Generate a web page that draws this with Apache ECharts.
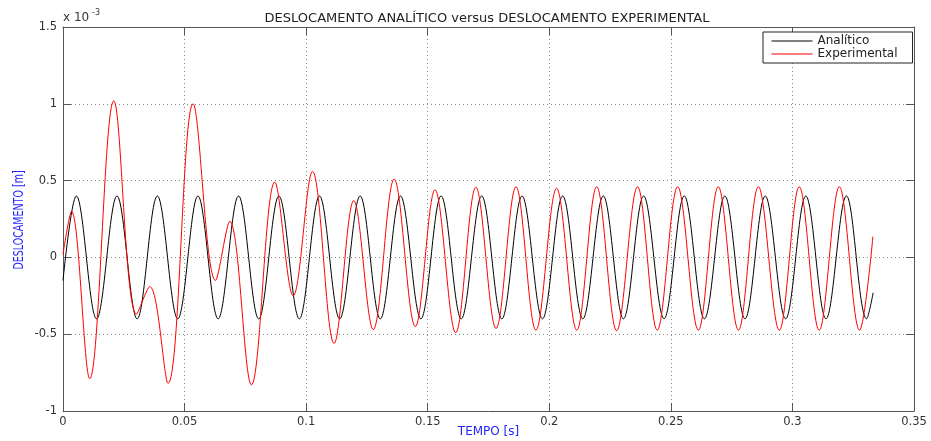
<!DOCTYPE html>
<html>
<head>
<meta charset="utf-8">
<script src="https://cdn.jsdelivr.net/npm/echarts@6/dist/echarts.min.js"></script>
<style>html,body{margin:0;padding:0;background:#fff}#c{width:931px;height:441px}</style>
</head>
<body>
<div id="c"></div>
<script>
// Values in units of 1e-3 m (extrema + end points)
const analyticT = [0, 0.0055, 0.0138, 0.0222, 0.0305, 0.0388, 0.0472, 0.0555, 0.0638, 0.0722, 0.0805,
  0.0888, 0.0972, 0.1055, 0.1138, 0.1222, 0.1305, 0.1388, 0.1472, 0.1555, 0.1638,
  0.1722, 0.1805, 0.1888, 0.1972, 0.2055, 0.2138, 0.2222, 0.2305, 0.2388, 0.2472,
  0.2555, 0.2638, 0.2722, 0.2805, 0.2888, 0.2972, 0.3055, 0.3138, 0.3222, 0.3305, 0.3332];
const analyticV = [-0.15, 0.40, -0.40, 0.40, -0.40, 0.40, -0.40, 0.40, -0.40, 0.40, -0.40,
  0.40, -0.40, 0.40, -0.40, 0.40, -0.40, 0.40, -0.40, 0.40, -0.40,
  0.40, -0.40, 0.40, -0.40, 0.40, -0.40, 0.40, -0.40, 0.40, -0.40,
  0.40, -0.40, 0.40, -0.40, 0.40, -0.40, 0.40, -0.40, 0.40, -0.40, -0.23];

const experimentalT = [0, 0.0035, 0.0110, 0.0209, 0.0302, 0.0357, 0.0432, 0.0535, 0.0627, 0.0686,
  0.0775, 0.0871, 0.0947, 0.1026, 0.1115, 0.1196, 0.1276, 0.1362, 0.1449, 0.1530,
  0.1615, 0.1698, 0.1781, 0.1863, 0.1945, 0.2030, 0.2113, 0.2195, 0.2277, 0.2363,
  0.2444, 0.2528, 0.2613, 0.2695, 0.2778, 0.2860, 0.2946, 0.3028, 0.3110, 0.3193,
  0.3276, 0.3331];
const experimentalV = [0.02, 0.30, -0.79, 1.02, -0.37, -0.19, -0.82, 1.00, -0.15, 0.235,
  -0.83, 0.49, -0.25, 0.56, -0.56, 0.37, -0.47, 0.51, -0.45, 0.44,
  -0.49, 0.457, -0.463, 0.46, -0.474, 0.45, -0.474, 0.46, -0.478, 0.46,
  -0.474, 0.46, -0.474, 0.46, -0.474, 0.46, -0.474, 0.46, -0.474, 0.46,
  -0.474, 0.136];

const seriesNames = ['Analítico', 'Experimental'];
const xTickValues = [0, 0.05, 0.1, 0.15, 0.2, 0.25, 0.3, 0.35];
const xTickLabels = ['0', '0.05', '0.1', '0.15', '0.2', '0.25', '0.3', '0.35'];
const yTickValues = [-1, -0.5, 0, 0.5, 1, 1.5];
const yTickLabels = ['-1', '-0.5', '0', '0.5', '1', '1.5'];

const FONT = 'DejaVu Sans';
const xMin = xTickValues[0], xMax = xTickValues[xTickValues.length - 1], xInt = xTickValues[1] - xTickValues[0];
const yMin = yTickValues[0], yMax = yTickValues[yTickValues.length - 1], yInt = yTickValues[1] - yTickValues[0];

const pairs = (t, v) => t.map((x, i) => [x, v[i]]);
const axisColor = '#555';

function boxAxis(extra) {
  return Object.assign({
    type: 'value',
    axisLine: { show: true, onZero: false, lineStyle: { color: axisColor, width: 1 } },
    axisTick: { show: true, inside: true, length: 8, lineStyle: { color: axisColor, width: 1 } },
    axisLabel: { show: false },
    splitLine: { show: false }
  }, extra);
}

const chart = echarts.init(document.getElementById('c'), null, { renderer: 'canvas' });
chart.setOption({
  animation: false,
  backgroundColor: '#ffffff',
  title: {
    text: 'DESLOCAMENTO ANALÍTICO versus DESLOCAMENTO EXPERIMENTAL',
    left: 482, top: 7, textAlign: 'center',
    textStyle: { fontFamily: FONT, fontSize: 13, fontWeight: 'normal', color: '#222' }
  },
  legend: {
    data: seriesNames,
    orient: 'vertical',
    left: 763, top: 32,
    padding: [2.5, 15, 2.5, 8.5],
    itemGap: 0,
    itemWidth: 41, itemHeight: 1,
    icon: 'rect',
    borderColor: '#222', borderWidth: 1, borderRadius: 0,
    backgroundColor: '#fff',
    textStyle: { fontFamily: FONT, fontSize: 12, color: '#222', lineHeight: 13 }
  },
  grid: { left: 63, right: 17, top: 27, bottom: 30, containLabel: false, outerBoundsMode: 'none' },
  xAxis: [
    boxAxis({
      min: xMin, max: xMax, interval: xInt, position: 'bottom',
      axisLabel: {
        show: true, margin: 5, color: '#333', fontFamily: FONT, fontSize: 11.5,
        formatter: v => xTickLabels[Math.round((v - xMin) / xInt)]
      },
      splitLine: { show: true, lineStyle: { type: [1, 3], color: '#888', width: 1 } },
      name: 'TEMPO [s]', nameLocation: 'middle', nameGap: 15, nameMoveOverlap: false,
      nameTextStyle: { color: '#2424ff', fontFamily: FONT, fontSize: 12, verticalAlign: 'top', lineHeight: 12 }
    }),
    boxAxis({ min: xMin, max: xMax, interval: xInt, position: 'top' })
  ],
  yAxis: [
    boxAxis({
      min: yMin, max: yMax, interval: yInt, position: 'left',
      axisLabel: {
        show: true, margin: 6, color: '#333', fontFamily: FONT, fontSize: 11.5,
        formatter: v => yTickLabels[Math.round((v - yMin) / yInt)]
      },
      splitLine: { show: true, lineStyle: { type: [1, 3], color: '#888', width: 1 } }
    }),
    boxAxis({ min: yMin, max: yMax, interval: yInt, position: 'right' })
  ],
  graphic: [
    { type: 'text', x: 20, y: 220, rotation: Math.PI / 2, scaleY: 1.4,
      style: { text: 'DESLOCAMENTO [m]', fill: '#2424ff', fontFamily: FONT, fontSize: 9.5, align: 'center', verticalAlign: 'middle' } },
    { type: 'text', x: 63, y: 18,
      style: { text: 'x 10', fill: '#333', fontFamily: FONT, fontSize: 12, align: 'left', verticalAlign: 'middle' } },
    { type: 'text', x: 92, y: 13,
      style: { text: '-3', fill: '#333', fontFamily: FONT, fontSize: 8, align: 'left', verticalAlign: 'middle' } }
  ],
  series: [
    { name: seriesNames[0], type: 'line', xAxisIndex: 0, yAxisIndex: 0, data: pairs(analyticT, analyticV),
      smooth: 0.36, symbol: 'none', lineStyle: { color: '#000', width: 1 }, itemStyle: { color: '#000' } },
    { name: seriesNames[1], type: 'line', xAxisIndex: 0, yAxisIndex: 0, data: pairs(experimentalT, experimentalV),
      smooth: 0.36, symbol: 'none', lineStyle: { color: '#ff0000', width: 1 }, itemStyle: { color: '#ff0000' } }
  ]
});
</script>
</body>
</html>
